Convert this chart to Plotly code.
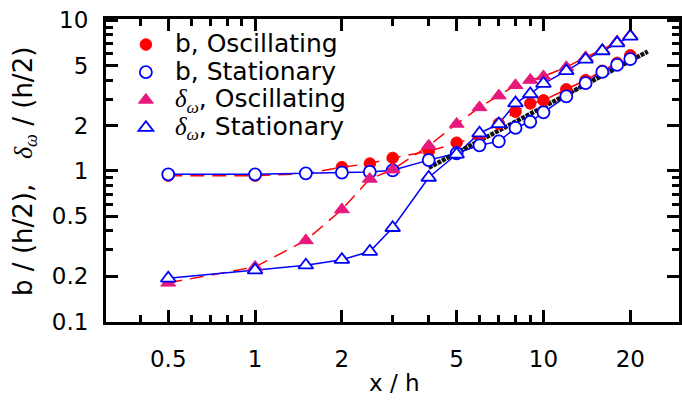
import plotly.graph_objects as go

# Downstream distance and measured widths (normalised by h/2)
x_over_h = [0.5, 1, 1.5, 2, 2.5, 3, 4, 5, 6, 7, 8, 9, 10, 12, 14, 16, 18, 20]
b_oscillating = [0.93, 0.93, 0.96, 1.06, 1.12, 1.22, 1.35, 1.54, 1.70, 2.06,
                 2.47, 2.80, 2.94, 3.48, 4.00, 4.62, 5.21, 5.85]
b_stationary = [0.95, 0.95, 0.965, 0.975, 0.985, 1.01, 1.18, 1.31, 1.48, 1.57,
                1.93, 2.12, 2.45, 3.12, 3.82, 4.54, 5.05, 5.52]
delta_oscillating = [0.181, 0.231, 0.346, 0.555, 0.885, 1.02, 1.47, 2.05, 2.64,
                     3.16, 3.70, 4.01, 4.24, 4.88, 5.67, 6.37, 7.22, 7.95]
delta_stationary = [0.194, 0.22, 0.237, 0.258, 0.292, 0.42, 0.905, 1.29, 1.78,
                    2.05, 2.82, 3.24, 3.80, 4.61, 5.50, 6.25, 7.05, 7.80]

# Linear growth fit
fit_x = [4.0, 23.0]
fit_y = [1.05, 6.2]

x_tick_vals = [0.5, 1, 2, 5, 10, 20]
x_tick_text = ["0.5", "1", "2", "5", "10", "20"]
x_minor_vals = [0.4, 0.6, 0.7, 0.8, 0.9, 3, 4, 6, 7, 8, 9]
y_tick_vals = [0.1, 0.2, 0.5, 1, 2, 5, 10]
y_tick_text = ["0.1", "0.2", "0.5", "1", "2", "5", "10"]
y_minor_vals = [0.3, 0.4, 0.6, 0.7, 0.8, 0.9, 3, 4, 6, 7, 8, 9]

FONT = "DejaVu Sans"
RED = "#FF0000"
PINK = "#E8197D"
BLUE = "#0000FF"
DELTA = ("<span style=\"font-family:Liberation Serif\"><i>δ</i>"
         "<sub><i>ω</i></sub></span>")


def legend_label(text):
    # larger glyphs than the legend row pitch would normally allow
    return "<span style=\"font-size:25px\">" + text + "</span>"


fig = go.Figure()

# connecting lines (under the black fit and the markers)
for yv, color, dash in [(b_oscillating, RED, "14px,8px"),
                        (delta_oscillating, RED, "14px,8px"),
                        (b_stationary, BLUE, None),
                        (delta_stationary, BLUE, None)]:
    fig.add_trace(go.Scatter(
        x=x_over_h, y=yv, mode="lines", showlegend=False, hoverinfo="skip",
        line=dict(color=color, width=1.5, dash=dash)))

fig.add_trace(go.Scatter(
    x=fit_x, y=fit_y, mode="lines", showlegend=False,
    line=dict(color="#111111", width=4.5, dash="4px,1px")))

# markers
fig.add_trace(go.Scatter(
    x=x_over_h, y=b_oscillating, mode="markers",
    name=legend_label("b, Oscillating"),
    marker=dict(symbol="circle", size=11.5, color=RED,
                line=dict(color=RED, width=1))))
fig.add_trace(go.Scatter(
    x=x_over_h, y=b_stationary, mode="markers",
    name=legend_label("b, Stationary"),
    marker=dict(symbol="circle", size=12, color="white",
                line=dict(color=BLUE, width=1.8))))
fig.add_trace(go.Scatter(
    x=x_over_h, y=delta_oscillating, mode="markers",
    name=legend_label(DELTA + ", Oscillating"),
    marker=dict(symbol="triangle-up", size=13, color=PINK,
                line=dict(color=PINK, width=1))))
fig.add_trace(go.Scatter(
    x=x_over_h, y=delta_stationary, mode="markers",
    name=legend_label(DELTA + ", Stationary"),
    marker=dict(symbol="triangle-up", size=13, color="white",
                line=dict(color=BLUE, width=1.8))))

axis_common = dict(
    type="log", showgrid=False, zeroline=False,
    showline=True, linewidth=3, linecolor="black", mirror="ticks",
    ticks="inside", ticklen=12, tickwidth=2.5, tickcolor="black",
    tickmode="array",
    tickfont=dict(family=FONT, size=23, color="black"),
)

fig.update_layout(
    width=682, height=401,
    margin=dict(l=106, r=0, t=19, b=79),
    paper_bgcolor="white", plot_bgcolor="white",
    font=dict(family=FONT, color="black"),
    xaxis=dict(axis_common, range=[-0.5169, 1.470],
               tickvals=x_tick_vals, ticktext=x_tick_text,
               ticklabelstandoff=14,
               minor=dict(ticks="inside", ticklen=7, tickwidth=2.5,
                          tickcolor="black", tickvals=x_minor_vals,
                          showgrid=False)),
    yaxis=dict(axis_common, range=[-1.002, 1.008],
               tickvals=y_tick_vals, ticktext=y_tick_text,
               ticklabelstandoff=10,
               minor=dict(ticks="inside", ticklen=7, tickwidth=2.5,
                          tickcolor="black", tickvals=y_minor_vals,
                          showgrid=False)),
    legend=dict(x=0.019, y=0.978, xanchor="left", yanchor="top",
                bgcolor="rgba(0,0,0,0)", borderwidth=0, itemwidth=48,
                font=dict(family=FONT, size=19, color="black"),
                tracegroupgap=0),
    showlegend=True,
)

fig.add_annotation(
    text="x / h", xref="paper", yref="paper", x=0.504, y=-0.2013,
    xanchor="center", yanchor="middle", showarrow=False,
    font=dict(family=FONT, size=23, color="black"))
fig.add_annotation(
    text="b / (h/2),&nbsp;&nbsp;&nbsp;" + DELTA + " / (h/2)",
    xref="paper", yref="paper", x=-0.1424, y=0.4967, textangle=-90,
    xanchor="center", yanchor="middle", showarrow=False,
    font=dict(family=FONT, size=26, color="black"))

fig.write_html("out.html")
